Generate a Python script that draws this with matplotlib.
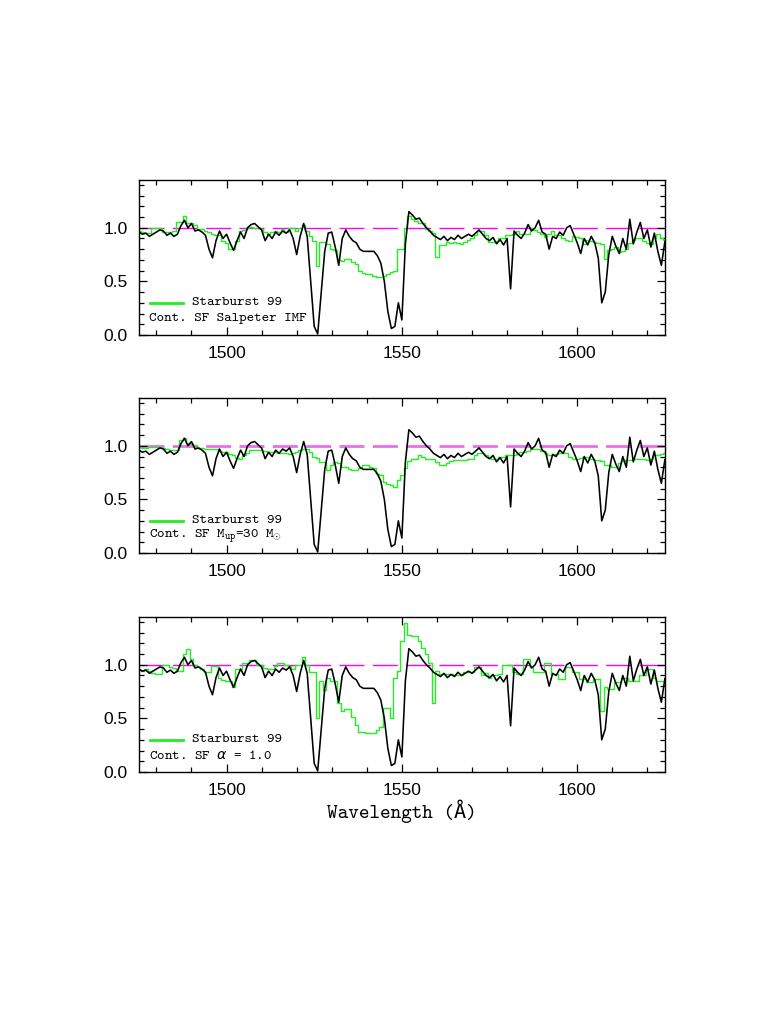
import numpy as np
import matplotlib
matplotlib.use("Agg")
import matplotlib.pyplot as plt
from matplotlib.ticker import MultipleLocator

plt.rcParams['mathtext.fontset'] = 'custom'
plt.rcParams['mathtext.rm'] = 'cmtt10'
plt.rcParams['mathtext.fallback'] = 'cm'

# wavelength grid (Angstrom)
wave = np.arange(1475, 1626, 1)

# observed spectrum (black)
observed = [
    0.96, 0.94, 0.95, 0.92, 0.94, 0.96, 0.98, 0.97, 0.93, 0.95,
    0.92, 0.94, 1.02, 1.07, 1.00, 1.04, 0.97, 0.98, 0.96, 0.93,
    0.80, 0.72, 0.88, 0.97, 0.90, 0.94, 0.86, 0.79, 0.88, 0.96,
    0.90, 1.00, 1.03, 1.04, 1.01, 0.98, 0.88, 0.94, 0.90, 0.96,
    0.93, 0.97, 0.95, 0.98, 0.90, 0.75, 0.92, 1.04, 0.92, 0.50,
    0.08, 0.01, 0.40, 0.78, 0.95, 0.96, 0.82, 0.65, 0.90, 0.98,
    0.92, 0.88, 0.86, 0.80, 0.78, 0.78, 0.78, 0.78, 0.74, 0.67,
    0.50, 0.22, 0.06, 0.08, 0.30, 0.14, 0.85, 1.15, 1.12, 1.08,
    1.09, 1.04, 1.00, 0.97, 0.93, 0.91, 0.89, 0.92, 0.88, 0.91,
    0.89, 0.93, 0.90, 0.92, 0.94, 0.92, 0.95, 0.98, 0.94, 0.90,
    0.88, 0.91, 0.85, 0.89, 0.84, 0.90, 0.43, 0.97, 0.93, 0.90,
    0.95, 1.03, 0.97, 1.00, 1.07, 0.96, 0.94, 0.80, 0.92, 0.90,
    0.96, 0.93, 1.00, 1.02, 0.94, 0.86, 0.76, 0.90, 0.84, 0.92,
    0.86, 0.72, 0.30, 0.40, 0.75, 0.92, 0.83, 0.76, 0.90, 0.80,
    1.08, 0.85, 0.96, 1.05, 0.90, 0.98, 0.82, 0.95, 0.78, 0.65,
    0.87,
]

# Starburst 99 models (green)
model_salpeter = [
    0.97, 0.96, 0.95, 0.95, 1.00, 1.00, 1.00, 0.96, 0.96, 0.96,
    0.97, 1.05, 1.05, 1.11, 1.04, 1.04, 1.03, 0.99, 0.99, 0.97,
    0.96, 0.94, 0.93, 0.93, 0.88, 0.86, 0.80, 0.80, 0.88, 0.97,
    0.98, 1.00, 1.01, 1.00, 1.00, 0.99, 0.96, 0.94, 0.96, 0.97,
    0.96, 0.99, 0.96, 1.00, 1.00, 0.97, 1.00, 1.03, 0.97, 0.92,
    0.88, 0.64, 0.87, 0.87, 0.85, 0.80, 0.79, 0.70, 0.69, 0.71,
    0.71, 0.68, 0.66, 0.60, 0.58, 0.57, 0.57, 0.55, 0.54, 0.54,
    0.55, 0.57, 0.59, 0.60, 0.80, 0.80, 1.00, 1.11, 1.08, 1.06,
    1.04, 1.04, 0.99, 0.97, 0.95, 0.73, 0.84, 0.84, 0.87, 0.86,
    0.87, 0.86, 0.85, 0.87, 0.89, 0.90, 0.93, 0.97, 0.97, 0.93,
    0.87, 0.87, 0.88, 0.90, 0.90, 0.93, 0.93, 0.94, 0.97, 0.94,
    0.94, 0.94, 1.00, 0.98, 0.96, 0.94, 0.91, 0.94, 0.97, 0.93,
    0.93, 0.90, 0.89, 0.88, 0.92, 0.91, 0.90, 0.85, 0.89, 0.88,
    0.87, 0.86, 0.85, 0.71, 0.79, 0.80, 0.82, 0.77, 0.78, 0.80,
    0.86, 0.89, 0.90, 0.90, 0.88, 0.86, 0.85, 0.90, 0.94, 0.90,
    0.89,
]

model_mup30 = [
    0.99, 0.98, 0.98, 0.99, 0.99, 0.99, 0.99, 0.98, 0.97, 0.96,
    0.96, 0.96, 1.05, 1.07, 1.03, 1.02, 1.01, 0.98, 0.98, 0.97,
    0.97, 0.97, 0.97, 0.95, 0.94, 0.94, 0.92, 0.91, 0.89, 0.88,
    0.91, 0.93, 0.96, 0.96, 0.96, 0.96, 0.95, 0.94, 0.94, 0.94,
    0.93, 0.93, 0.93, 0.92, 0.93, 0.94, 0.96, 0.97, 0.97, 0.94,
    0.90, 0.89, 0.85, 0.85, 0.77, 0.82, 0.85, 0.84, 0.80, 0.80,
    0.78, 0.77, 0.77, 0.79, 0.82, 0.82, 0.80, 0.79, 0.74, 0.73,
    0.66, 0.64, 0.63, 0.62, 0.68, 0.73, 0.79, 0.86, 0.88, 0.88,
    0.91, 0.90, 0.88, 0.88, 0.88, 0.85, 0.82, 0.82, 0.84, 0.86,
    0.87, 0.87, 0.87, 0.87, 0.88, 0.88, 0.91, 0.93, 0.93, 0.91,
    0.89, 0.88, 0.88, 0.90, 0.90, 0.91, 0.91, 0.91, 0.92, 0.94,
    0.94, 0.95, 0.97, 0.97, 0.97, 0.95, 0.93, 0.91, 0.91, 0.92,
    0.93, 0.93, 0.93, 0.90, 0.88, 0.88, 0.89, 0.90, 0.90, 0.88,
    0.87, 0.87, 0.86, 0.82, 0.82, 0.80, 0.80, 0.84, 0.86, 0.87,
    0.87, 0.88, 0.88, 0.88, 0.88, 0.87, 0.88, 0.91, 0.91, 0.92,
    0.93,
]

model_alpha1 = [
    0.95, 0.94, 0.96, 0.94, 0.92, 0.91, 0.91, 1.00, 1.00, 0.98,
    0.97, 0.94, 0.94, 1.10, 1.15, 1.05, 1.00, 0.98, 0.96, 0.93,
    0.93, 0.99, 0.99, 0.88, 0.86, 0.85, 0.85, 0.79, 0.96, 0.96,
    1.02, 1.02, 1.04, 1.04, 1.00, 1.00, 0.97, 0.96, 0.96, 0.99,
    1.02, 1.02, 1.00, 0.99, 0.96, 1.00, 1.00, 1.07, 1.00, 0.93,
    0.93, 0.50, 0.85, 0.76, 0.88, 0.85, 0.85, 0.64, 0.57, 0.59,
    0.59, 0.51, 0.44, 0.37, 0.37, 0.36, 0.36, 0.36, 0.39, 0.42,
    0.60, 0.60, 0.50, 0.88, 0.94, 1.22, 1.39, 1.28, 1.27, 1.27,
    1.22, 1.16, 1.10, 1.02, 0.64, 0.94, 0.91, 0.91, 0.91, 0.91,
    0.90, 0.90, 0.90, 0.93, 0.93, 0.93, 0.98, 0.98, 0.90, 0.92,
    0.88, 0.90, 0.90, 0.91, 1.00, 1.00, 1.00, 0.93, 0.91, 0.91,
    1.05, 1.05, 0.98, 0.93, 0.93, 0.93, 1.02, 1.02, 0.91, 0.91,
    0.87, 0.87, 0.98, 0.98, 0.93, 0.93, 0.87, 0.87, 0.84, 0.84,
    0.87, 0.87, 0.57, 0.79, 0.77, 0.77, 0.84, 0.84, 0.88, 0.88,
    0.85, 0.85, 0.85, 0.90, 0.90, 0.96, 0.96, 0.88, 0.85, 0.85,
    0.85,
]

labels = [
    "Cont. SF Salpeter IMF",
    r"Cont. SF M$_{\mathrm{up}}$=30 M$_{\odot}$",
    r"Cont. SF $\alpha$ = 1.0",
]
models = [model_salpeter, model_mup30, model_alpha1]
legend_name = "Starburst 99"
xlabel = "Wavelength (Å)"

fig = plt.figure(figsize=(7.63, 10.16), dpi=100)
lefts = 0.182
width = 0.6894
bottoms = [0.6703, 0.4557, 0.2402]
height = 0.1530
tt = 'cmtt10'

dash_styles = [
    dict(color='#ff00ff', lw=1.0, dashes=(18, 6)),
    dict(color='#e870e8', lw=2.0, dashes=(9, 3)),
    dict(color='#ff00ff', lw=1.0, dashes=(18, 6)),
]

for i in range(3):
    ax = fig.add_axes([lefts, bottoms[i], width, height])
    ax.axhline(1.0, **dash_styles[i], zorder=1)
    ax.plot(wave, observed, color='black', lw=1.15, zorder=3)
    ax.step(wave, models[i], where='mid', color='#22ee22', lw=1.0, zorder=2)
    ax.set_xlim(1475, 1625)
    ax.set_ylim(0, 1.45)
    ax.xaxis.set_major_locator(MultipleLocator(50))
    ax.xaxis.set_minor_locator(MultipleLocator(10))
    ax.yaxis.set_major_locator(MultipleLocator(0.5))
    ax.yaxis.set_minor_locator(MultipleLocator(0.1))
    ax.tick_params(which='both', direction='in', top=True, right=True, width=0.9)
    ax.tick_params(which='major', length=6, pad=8)
    ax.tick_params(which='minor', length=3.5)
    ax.set_yticks([0, 0.5, 1.0])
    ax.set_yticklabels(['0.0', '0.5', '1.0'])
    for lab in ax.get_xticklabels() + ax.get_yticklabels():
        lab.set_fontfamily('Liberation Sans')
        lab.set_fontsize(12.5)
    for s in ax.spines.values():
        s.set_linewidth(1.0)
    # legend
    ax.plot([1478.1, 1487.6], [0.30, 0.30], color='#22ee22', lw=2.0)
    ax.text(1490.2, 0.30, legend_name, family=tt, fontsize=10.3, va='center', ha='left')
    ax.text(1478.0, 0.155, labels[i], family=tt, fontsize=10.3, va='center', ha='left')
    if i == 2:
        ax.set_xlabel(xlabel, family=[tt, 'DejaVu Sans Mono'], fontsize=14.5, labelpad=1)

fig.savefig('out.png', dpi=100)
